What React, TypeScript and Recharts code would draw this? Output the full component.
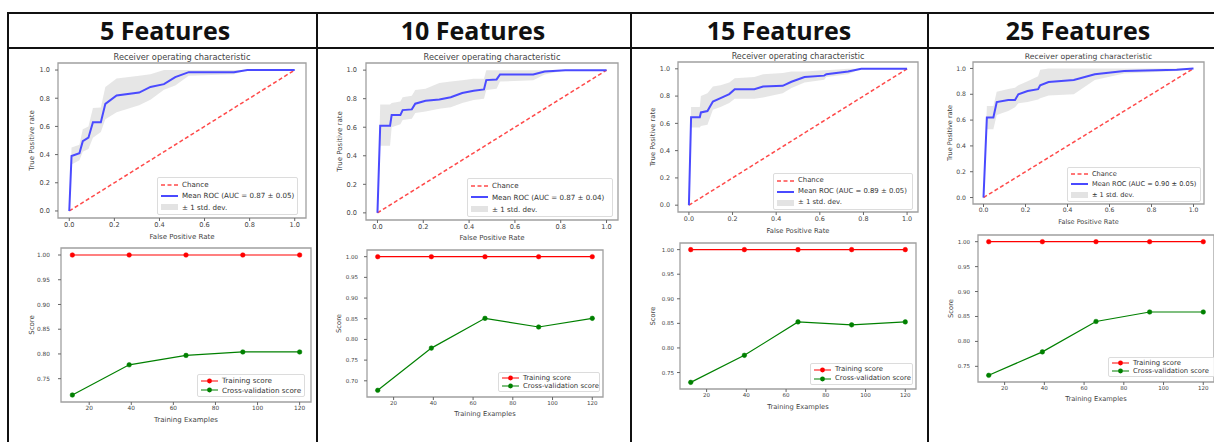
import React from 'react';
import { ComposedChart, Line, Area, XAxis, YAxis, ReferenceArea, Legend } from 'recharts';

// ---------------- data ----------------
const HEADERS = ['5 Features', '10 Features', '15 Features', '25 Features'];
const AUC_LABELS = [
  'Mean ROC (AUC = 0.87 ± 0.05)',
  'Mean ROC (AUC = 0.87 ± 0.04)',
  'Mean ROC (AUC = 0.89 ± 0.05)',
  'Mean ROC (AUC = 0.90 ± 0.05)',
];
const CHANCE_X = [0, 1];
const CHANCE_Y = [0, 1];

const ROC1_FPR = [0, 0.01, 0.045, 0.06, 0.085, 0.105, 0.14, 0.16, 0.21, 0.31, 0.36, 0.42, 0.47, 0.53, 0.73, 0.79, 1.0];
const ROC1_TPR = [0, 0.39, 0.41, 0.495, 0.52, 0.63, 0.63, 0.76, 0.82, 0.84, 0.88, 0.9, 0.95, 0.985, 0.985, 1.0, 1.0];
const ROC1_LO = [0, 0.33, 0.36, 0.42, 0.44, 0.52, 0.56, 0.65, 0.7, 0.75, 0.79, 0.86, 0.89, 0.96, 0.97, 1.0, 1.0];
const ROC1_HI = [0, 0.45, 0.47, 0.58, 0.6, 0.73, 0.735, 0.88, 0.94, 0.96, 0.97, 1.0, 1.0, 1.0, 1.0, 1.0, 1.0];

const ROC2_FPR = [0, 0.012, 0.055, 0.062, 0.1, 0.11, 0.15, 0.165, 0.21, 0.27, 0.32, 0.37, 0.42, 0.465, 0.475, 0.52, 0.535, 0.68, 0.73, 0.82, 1.0];
const ROC2_TPR = [0, 0.61, 0.61, 0.685, 0.685, 0.72, 0.725, 0.765, 0.785, 0.795, 0.81, 0.84, 0.855, 0.865, 0.93, 0.935, 0.97, 0.97, 0.99, 1.0, 1.0];
const ROC2_LO = [0, 0.47, 0.47, 0.6, 0.62, 0.65, 0.66, 0.7, 0.71, 0.73, 0.74, 0.77, 0.79, 0.8, 0.86, 0.87, 0.92, 0.93, 0.97, 1.0, 1.0];
const ROC2_HI = [0, 0.76, 0.76, 0.77, 0.78, 0.81, 0.82, 0.86, 0.87, 0.91, 0.92, 0.93, 0.94, 0.94, 1.0, 1.0, 1.0, 1.0, 1.0, 1.0, 1.0];

const ROC3_FPR = [0, 0.01, 0.05, 0.055, 0.085, 0.11, 0.145, 0.185, 0.21, 0.3, 0.34, 0.43, 0.47, 0.53, 0.62, 0.63, 0.73, 0.79, 1.0];
const ROC3_TPR = [0, 0.645, 0.645, 0.68, 0.69, 0.76, 0.785, 0.815, 0.85, 0.85, 0.87, 0.875, 0.905, 0.94, 0.95, 0.96, 0.98, 1.0, 1.0];
const ROC3_LO = [0, 0.57, 0.57, 0.58, 0.59, 0.7, 0.72, 0.75, 0.78, 0.78, 0.79, 0.82, 0.86, 0.9, 0.92, 0.94, 0.96, 1.0, 1.0];
const ROC3_HI = [0, 0.72, 0.72, 0.8, 0.82, 0.87, 0.88, 0.9, 0.93, 0.94, 0.96, 0.97, 0.98, 0.98, 0.99, 0.99, 1.0, 1.0, 1.0];

const ROC4_FPR = [0, 0.016, 0.047, 0.063, 0.118, 0.15, 0.166, 0.21, 0.26, 0.27, 0.31, 0.43, 0.53, 0.67, 0.92, 1.0];
const ROC4_TPR = [0, 0.62, 0.62, 0.74, 0.755, 0.755, 0.8, 0.825, 0.84, 0.87, 0.895, 0.91, 0.955, 0.98, 0.99, 1.0];
const ROC4_LO = [0, 0.53, 0.53, 0.64, 0.67, 0.7, 0.73, 0.74, 0.76, 0.77, 0.79, 0.8, 0.91, 0.96, 0.98, 1.0];
const ROC4_HI = [0, 0.71, 0.71, 0.82, 0.84, 0.85, 0.87, 0.9, 0.94, 0.99, 1.0, 1.0, 1.0, 1.0, 1.0, 1.0];

const TRAIN_SIZES = [12, 39, 66, 93, 120];
const LC1_TRAIN = [1.0, 1.0, 1.0, 1.0, 1.0];
const LC1_CV = [0.717, 0.778, 0.797, 0.804, 0.804];
const LC2_TRAIN = [1.0, 1.0, 1.0, 1.0, 1.0];
const LC2_CV = [0.677, 0.779, 0.851, 0.83, 0.851];
const LC3_TRAIN = [1.0, 1.0, 1.0, 1.0, 1.0];
const LC3_CV = [0.73, 0.785, 0.853, 0.847, 0.853];
const LC4_TRAIN = [1.0, 1.0, 1.0, 1.0, 1.0];
const LC4_CV = [0.732, 0.779, 0.84, 0.859, 0.859];

const ROC_TICKS = [0, 0.2, 0.4, 0.6, 0.8, 1.0];
const LC_X_TICKS = [20, 40, 60, 80, 100, 120];
const LC_Y_TICKS_A = [0.75, 0.8, 0.85, 0.9, 0.95, 1.0];
const LC_Y_TICKS_B = [0.7, 0.75, 0.8, 0.85, 0.9, 0.95, 1.0];

// ---------------- layout ----------------
type Box = { x0: number; y0: number; x1: number; y1: number };
const ROC_FRAMES: Box[] = [
  { x0: 58, y0: 63, x1: 306, y1: 218 },
  { x0: 366, y0: 63, x1: 618, y1: 220 },
  { x0: 678, y0: 62, x1: 918, y1: 212 },
  { x0: 973, y0: 62, x1: 1204, y1: 204 },
];
const ROC_YW = [52, 52, 50, 46];
const ROC_XH = [36, 34, 36, 34];
const ROC_YTM = [5, 6, 5, 4];
const ROC_SCALE = [1, 1, 0.97, 0.93];
const ROC_LEG: Box[] = [
  { x0: 157, y0: 177, x1: 298, y1: 215 },
  { x0: 467, y0: 178, x1: 613, y1: 217 },
  { x0: 773, y0: 173, x1: 913, y1: 210 },
  { x0: 1067, y0: 167, x1: 1201, y1: 202 },
];
const LC_FRAMES: Box[] = [
  { x0: 61, y0: 248, x1: 311, y1: 402 },
  { x0: 367, y0: 250, x1: 603, y1: 397 },
  { x0: 680, y0: 243, x1: 916, y1: 389 },
  { x0: 978, y0: 235, x1: 1214, y1: 382 },
];
const LC_YW = [58, 56, 54, 54];
const LC_XH = [34, 32, 34, 32];
const LC_YTM = [8, 6, 3, 5];
const LC_SCALE = [1, 0.96, 0.96, 0.96];
const LC_LEG: Box[] = [
  { x0: 197, y0: 374, x1: 305, y1: 397 },
  { x0: 498, y0: 372, x1: 600, y1: 392 },
  { x0: 810, y0: 363, x1: 913, y1: 385 },
  { x0: 1108, y0: 357, x1: 1216, y1: 377 },
];
const COL_LINES = [7, 316, 630, 927];
const HEADER_CENTERS = [165, 473, 779, 1078];

const C_MEAN = '#4a4aff';
const C_CHANCE = '#ff4a4a';
const C_TRAIN = '#ff0000';
const C_CV = '#008000';
const TXT = '#444';

// ---------------- builders ----------------
function buildRoc(fpr: number[], tpr: number[], lo: number[], hi: number[]) {
  return fpr.map((f, i) => {
    const ci = CHANCE_X.indexOf(f);
    return { fpr: f, tpr: tpr[i], band: [lo[i], hi[i]], chance: ci >= 0 ? CHANCE_Y[ci] : null };
  });
}
function buildLc(train: number[], cv: number[]) {
  return TRAIN_SIZES.map((n, i) => ({ n, train: train[i], cv: cv[i] }));
}
const ROC_DATA = [
  buildRoc(ROC1_FPR, ROC1_TPR, ROC1_LO, ROC1_HI),
  buildRoc(ROC2_FPR, ROC2_TPR, ROC2_LO, ROC2_HI),
  buildRoc(ROC3_FPR, ROC3_TPR, ROC3_LO, ROC3_HI),
  buildRoc(ROC4_FPR, ROC4_TPR, ROC4_LO, ROC4_HI),
];
const LC_DATA = [
  buildLc(LC1_TRAIN, LC1_CV),
  buildLc(LC2_TRAIN, LC2_CV),
  buildLc(LC3_TRAIN, LC3_CV),
  buildLc(LC4_TRAIN, LC4_CV),
];
const LC_YTICKS = [LC_Y_TICKS_A, LC_Y_TICKS_B, LC_Y_TICKS_A, LC_Y_TICKS_A];

function lcDomain(train: number[], cv: number[]): [number, number] {
  const mn = Math.min(...train, ...cv);
  const mx = Math.max(...train, ...cv);
  const pad = (mx - mn) * 0.05;
  return [mn - pad, mx + pad];
}
const LC_RAW = [
  [LC1_TRAIN, LC1_CV],
  [LC2_TRAIN, LC2_CV],
  [LC3_TRAIN, LC3_CV],
  [LC4_TRAIN, LC4_CV],
];

type LegItem = { label: string; kind: 'dash' | 'line' | 'patch' | 'marker'; color: string };

function LegendBox({ items, box, font }: { items: LegItem[]; box: Box; font: number }) {
  return (
    <div
      style={{
        width: box.x1 - box.x0,
        height: box.y1 - box.y0,
        boxSizing: 'border-box',
        border: '1px solid #dcdcdc',
        borderRadius: 2,
        background: 'rgba(255,255,255,0.85)',
        display: 'flex',
        flexDirection: 'column',
        justifyContent: 'space-around',
        padding: '1px 0 1px 3px',
        fontSize: font,
        color: '#333',
        fontFamily: '"DejaVu Sans", sans-serif',
        overflow: 'hidden',
      }}
    >
      {items.map((it) => (
        <div key={it.label} style={{ display: 'flex', alignItems: 'center', whiteSpace: 'nowrap', lineHeight: 1 }}>
          <svg width={17} height={8} style={{ flex: 'none' }}>
            {it.kind === 'dash' && <line x1={0} y1={4} x2={17} y2={4} stroke={it.color} strokeWidth={1.5} strokeDasharray="4 2.5" />}
            {it.kind === 'line' && <line x1={0} y1={4} x2={17} y2={4} stroke={it.color} strokeWidth={2} />}
            {it.kind === 'patch' && <rect x={0} y={1} width={17} height={6} fill="#808080" fillOpacity={0.22} />}
            {it.kind === 'marker' && (
              <g>
                <line x1={0} y1={4} x2={17} y2={4} stroke={it.color} strokeWidth={1.2} />
                <circle cx={8.5} cy={4} r={2.4} fill={it.color} />
              </g>
            )}
          </svg>
          <span style={{ marginLeft: 4 }}>{it.label}</span>
        </div>
      ))}
    </div>
  );
}

type PanelProps = {
  frame: Box;
  yW: number;
  xH: number;
  yTickMargin: number;
  topPad: number;
  data: any[];
  xKey: string;
  xDomain: [number, number];
  yDomain: [number, number];
  xTicks: number[];
  yTicks: number[];
  xFmt: (v: number) => string;
  yFmt: (v: number) => string;
  xLabel: string;
  yLabel: string;
  title?: string;
  tickFont: number;
  labelFont: number;
  legend: Box;
  legendItems: LegItem[];
  legendFont: number;
  children: React.ReactNode;
};

function Panel(p: PanelProps) {
  const rightPad = 3;
  const left = p.frame.x0 - p.yW;
  const top = p.frame.y0 - p.topPad;
  const width = p.frame.x1 - left + rightPad;
  const height = p.frame.y1 - top + p.xH;
  const legBox = p.legend;
  return (
    <div style={{ position: 'absolute', left, top, width, height }}>
      <ComposedChart width={width} height={height} data={p.data} margin={{ top: p.topPad, right: rightPad, bottom: 0, left: 0 }}>
        <XAxis
          dataKey={p.xKey}
          type="number"
          domain={p.xDomain}
          ticks={p.xTicks}
          interval={0}
          allowDataOverflow
          tickFormatter={p.xFmt}
          axisLine={false}
          tickSize={3}
          tickMargin={1}
          tickLine={{ stroke: '#666' }}
          tick={{ fontSize: p.tickFont, fill: TXT }}
          height={p.xH}
          label={{ value: p.xLabel, position: 'center', fontSize: p.labelFont, fill: TXT, dy: 1 }}
        />
        <YAxis
          type="number"
          domain={p.yDomain}
          ticks={p.yTicks}
          interval={0}
          allowDataOverflow
          tickFormatter={p.yFmt}
          axisLine={false}
          tickSize={3}
          tickMargin={p.yTickMargin}
          tickLine={{ stroke: '#666' }}
          tick={{ fontSize: p.tickFont, fill: TXT }}
          width={p.yW}
          label={{ value: p.yLabel, position: 'center', angle: -90, fontSize: p.labelFont, fill: TXT }}
        />
        {p.children}
        <ReferenceArea
          x1={p.xDomain[0]}
          x2={p.xDomain[1]}
          y1={p.yDomain[0]}
          y2={p.yDomain[1]}
          fill="none"
          stroke="#a0a0a0"
          strokeWidth={1.3}
          ifOverflow="visible"
          label={p.title ? { value: p.title, position: 'top', offset: 3, fontSize: p.labelFont * 1.18, fill: TXT } : undefined}
        />
        <Legend
          layout="horizontal"
          verticalAlign="middle"
          align="center"
          wrapperStyle={{ left: legBox.x0 - left, top: legBox.y0 - top, width: legBox.x1 - legBox.x0, height: legBox.y1 - legBox.y0 }}
          content={() => <LegendBox items={p.legendItems} box={legBox} font={p.legendFont} />}
        />
      </ComposedChart>
    </div>
  );
}

const fmt1 = (v: number) => v.toFixed(1);
const fmt2 = (v: number) => v.toFixed(2);
const fmt0 = (v: number) => String(v);

export default function App() {
  return (
    <div
      style={{
        position: 'absolute',
        left: 0,
        top: 0,
        width: 1214,
        height: 442,
        overflow: 'hidden',
        background: '#fff',
        fontFamily: '"DejaVu Sans", sans-serif',
      }}
    >
      {/* table lines */}
      <div style={{ position: 'absolute', left: 7, top: 12, width: 1214, height: 2, background: '#111' }} />
      <div style={{ position: 'absolute', left: 7, top: 47, width: 1214, height: 2, background: '#111' }} />
      {COL_LINES.map((x) => (
        <div key={x} style={{ position: 'absolute', left: x, top: 12, width: 2, height: 440, background: '#111' }} />
      ))}
      {HEADERS.map((h, i) => (
        <div
          key={h}
          style={{
            position: 'absolute',
            left: HEADER_CENTERS[i] - 120,
            width: 240,
            top: 14,
            height: 33,
            lineHeight: '33px',
            textAlign: 'center',
            fontFamily: '"Open Sans", sans-serif',
            fontWeight: 700,
            fontSize: 25,
            color: '#111',
          }}
        >
          {h}
        </div>
      ))}

      {ROC_DATA.map((d, i) => {
        const s = ROC_SCALE[i];
        return (
          <Panel
            key={'roc' + i}
            frame={ROC_FRAMES[i]}
            yW={ROC_YW[i]}
            xH={ROC_XH[i]}
            yTickMargin={ROC_YTM[i]}
            topPad={14}
            data={d}
            xKey="fpr"
            xDomain={[-0.05, 1.05]}
            yDomain={[-0.05, 1.05]}
            xTicks={ROC_TICKS}
            yTicks={ROC_TICKS}
            xFmt={fmt1}
            yFmt={fmt1}
            xLabel="False Positive Rate"
            yLabel="True Positive rate"
            title="Receiver operating characteristic"
            tickFont={6.6 * s}
            labelFont={7.0 * s}
            legend={ROC_LEG[i]}
            legendFont={7.1 * s}
            legendItems={[
              { label: 'Chance', kind: 'dash', color: C_CHANCE },
              { label: AUC_LABELS[i], kind: 'line', color: C_MEAN },
              { label: '± 1 std. dev.', kind: 'patch', color: '#808080' },
            ]}
          >
            <Area dataKey="band" type="linear" stroke="none" fill="#808080" fillOpacity={0.2} isAnimationActive={false} />
            <Line dataKey="chance" type="linear" connectNulls stroke={C_CHANCE} strokeWidth={1.5} strokeDasharray="4 2.5" dot={false} isAnimationActive={false} />
            <Line dataKey="tpr" type="linear" stroke={C_MEAN} strokeWidth={2} dot={false} isAnimationActive={false} />
          </Panel>
        );
      })}

      {LC_DATA.map((d, i) => {
        const s = LC_SCALE[i];
        return (
          <Panel
            key={'lc' + i}
            frame={LC_FRAMES[i]}
            yW={LC_YW[i]}
            xH={LC_XH[i]}
            yTickMargin={LC_YTM[i]}
            topPad={4}
            data={d}
            xKey="n"
            xDomain={[6.6, 125.4]}
            yDomain={lcDomain(LC_RAW[i][0], LC_RAW[i][1])}
            xTicks={LC_X_TICKS}
            yTicks={LC_YTICKS[i]}
            xFmt={fmt0}
            yFmt={fmt2}
            xLabel="Training Examples"
            yLabel="Score"
            tickFont={5.8 * s}
            labelFont={7.0 * s}
            legend={LC_LEG[i]}
            legendFont={7.2 * s}
            legendItems={[
              { label: 'Training score', kind: 'marker', color: C_TRAIN },
              { label: 'Cross-validation score', kind: 'marker', color: C_CV },
            ]}
          >
            <Line dataKey="train" type="linear" stroke={C_TRAIN} strokeWidth={1.2} dot={{ r: 2.3, fill: C_TRAIN, stroke: C_TRAIN, strokeWidth: 0.5 }} isAnimationActive={false} />
            <Line dataKey="cv" type="linear" stroke={C_CV} strokeWidth={1.2} dot={{ r: 2.3, fill: C_CV, stroke: C_CV, strokeWidth: 0.5 }} isAnimationActive={false} />
          </Panel>
        );
      })}
    </div>
  );
}
